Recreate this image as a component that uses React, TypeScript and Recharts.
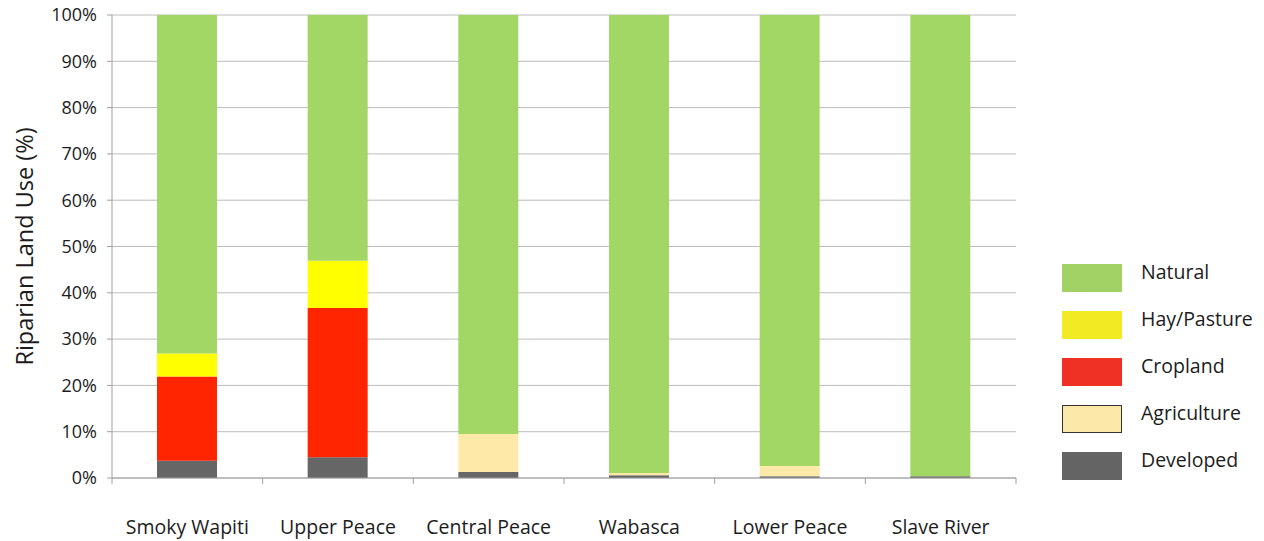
import { Bar, BarChart, CartesianGrid, XAxis, YAxis } from "recharts";

const regions = ["Smoky Wapiti", "Upper Peace", "Central Peace", "Wabasca", "Lower Peace", "Slave River"];
const developed = [3.7, 4.5, 1.3, 0.6, 0.4, 0.4];
const agriculture = [0, 0, 8.2, 0.5, 2.2, 0];
const cropland = [18.2, 32.2, 0, 0, 0, 0];
const hayPasture = [5.0, 10.2, 0, 0, 0, 0];
const natural = [73.1, 53.1, 90.5, 98.9, 97.4, 99.6];
const yTicks = [0, 10, 20, 30, 40, 50, 60, 70, 80, 90, 100];

const series = [
  { key: "developed", name: "Developed", fill: "#666666", swatch: "#646464" },
  { key: "agriculture", name: "Agriculture", fill: "#FFE9A8", swatch: "#FCE8A8", border: true },
  { key: "cropland", name: "Cropland", fill: "#FF2500", swatch: "#EE3124" },
  { key: "hay", name: "Hay/Pasture", fill: "#FFFF00", swatch: "#F2EA22" },
  { key: "natural", name: "Natural", fill: "#A2D665", swatch: "#A2D266" },
];

const data = regions.map((name, i) => ({
  name,
  developed: developed[i],
  agriculture: agriculture[i],
  cropland: cropland[i],
  hay: hayPasture[i],
  natural: natural[i],
}));

const font = "'Open Sans', sans-serif";
const ink = "#1c1c1c";

// category labels sit well below the axis; tick marks go on the band edges
function RegionTick(props: any) {
  const { x, y, payload, index, visibleTicksCount } = props;
  const half = payload.offset ?? 0;
  const last = index === (visibleTicksCount ?? regions.length) - 1;
  return (
    <g>
      <line x1={x - half} x2={x - half} y1={y} y2={y + 6} stroke="#a0a0a0" />
      {last && <line x1={x + half} x2={x + half} y1={y} y2={y + 6} stroke="#a0a0a0" />}
      <text x={x} y={y + 56} textAnchor="middle" fill={ink} fontSize={19.5} fontFamily={font}>
        {payload.value}
      </text>
    </g>
  );
}

function LegendBox() {
  const rows = [...series].reverse();
  return (
    <div style={{ position: "absolute", left: 1062, top: 264, width: 202, fontFamily: font, fontSize: 19.5, color: ink }}>
      {rows.map((s) => (
        <div key={s.key} style={{ display: "flex", alignItems: "center", height: 28, marginBottom: 19 }}>
          <div
            style={{
              width: 60,
              height: 28,
              flexShrink: 0,
              boxSizing: "border-box",
              background: s.swatch,
              border: s.border ? "1px solid #333" : "none",
            }}
          />
          <span style={{ marginLeft: 19, marginTop: -13, whiteSpace: "nowrap" }}>{s.name}</span>
        </div>
      ))}
    </div>
  );
}

export default function App() {
  return (
    <div style={{ position: "absolute", left: 0, top: 0, width: 1264, height: 541, background: "#fff" }}>
      <BarChart
        width={1264}
        height={541}
        data={data}
        margin={{ top: 15, right: 248, left: 0, bottom: 0 }}
        barSize={60}
      >
        <CartesianGrid stroke="#bcbcbc" vertical={false} />
        <XAxis
          dataKey="name"
          stroke="#a0a0a0"
          tickLine={false}
          tickSize={0}
          tickMargin={0}
          height={63}
          tick={<RegionTick />}
          interval={0}
        />
        <YAxis
          type="number"
          domain={[0, 100]}
          ticks={yTicks}
          interval={0}
          width={112}
          stroke="#a0a0a0"
          tickSize={5}
          tickMargin={10}
          tickFormatter={(v) => `${v}%`}
          tick={{ fill: ink, fontSize: 18, fontFamily: font }}
          label={{
            value: "Riparian Land Use (%)",
            angle: -90,
            position: "insideLeft",
            dx: 20,
            style: { textAnchor: "middle", fill: ink, fontSize: 23.5, fontFamily: font },
          }}
        />
        {series.map((s) => (
          <Bar
            key={s.key}
            dataKey={s.key}
            name={s.name}
            stackId="a"
            fill={s.fill}
            isAnimationActive={false}
          />
        ))}
      </BarChart>
      <LegendBox />
    </div>
  );
}
